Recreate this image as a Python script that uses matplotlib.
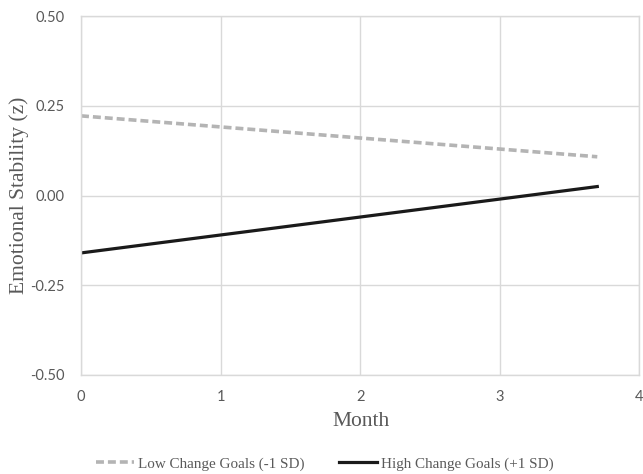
import matplotlib.pyplot as plt

# Data
months = [0, 3.7]
low_goals = [0.222, 0.108]
high_goals = [-0.16, 0.025]

xticks = [0, 1, 2, 3, 4]
yticks = [-0.50, -0.25, 0.00, 0.25, 0.50]

grid_c = '#d9d9d9'
text_c = '#595959'

fig = plt.figure(figsize=(6.43, 4.74), dpi=100)
ax = fig.add_axes([0.126, 0.209, 0.868, 0.757])

ax.plot(months, low_goals, color='#b4b4b4', lw=2.6, ls=(0, (2.2, 1.1)),
        label='Low Change Goals (-1 SD)')
ax.plot(months, high_goals, color='#1a1a1a', lw=2.3,
        label='High Change Goals (+1 SD)')

ax.set_xlim(0, 4)
ax.set_ylim(-0.5, 0.5)
ax.set_xticks(xticks)
ax.set_yticks(yticks)
ax.set_yticklabels([f'{v:.2f}' for v in yticks])
ax.grid(True, color=grid_c, lw=1)
ax.set_axisbelow(True)
for s in ax.spines.values():
    s.set_color(grid_c)
    s.set_linewidth(1)
ax.tick_params(length=0, labelsize=10.5, labelcolor=text_c)
ax.tick_params(axis='x', pad=11)
ax.tick_params(axis='y', pad=12)
for lab in ax.get_xticklabels() + ax.get_yticklabels():
    lab.set_family('Lato')

# axis titles placed directly
serif = 'Liberation Serif'
fig.text(361 / 643, 1 - 422 / 474, 'Month', family=serif, fontsize=15.5,
         color=text_c, ha='center', va='center')
fig.text(19 / 643, 1 - 195 / 474, 'Emotional Stability (z)', family=serif, fontsize=15.5,
         color=text_c, ha='center', va='center', rotation=90)

leg = fig.legend(loc='center', bbox_to_anchor=(0.505, 1 - 464 / 474), ncol=2, frameon=False,
                 prop={'family': serif, 'size': 10.9}, handlelength=2.5, handletextpad=0.25,
                 columnspacing=2.3, borderpad=0)
for t in leg.get_texts():
    t.set_color(text_c)

fig.savefig('out.png', dpi=100)
